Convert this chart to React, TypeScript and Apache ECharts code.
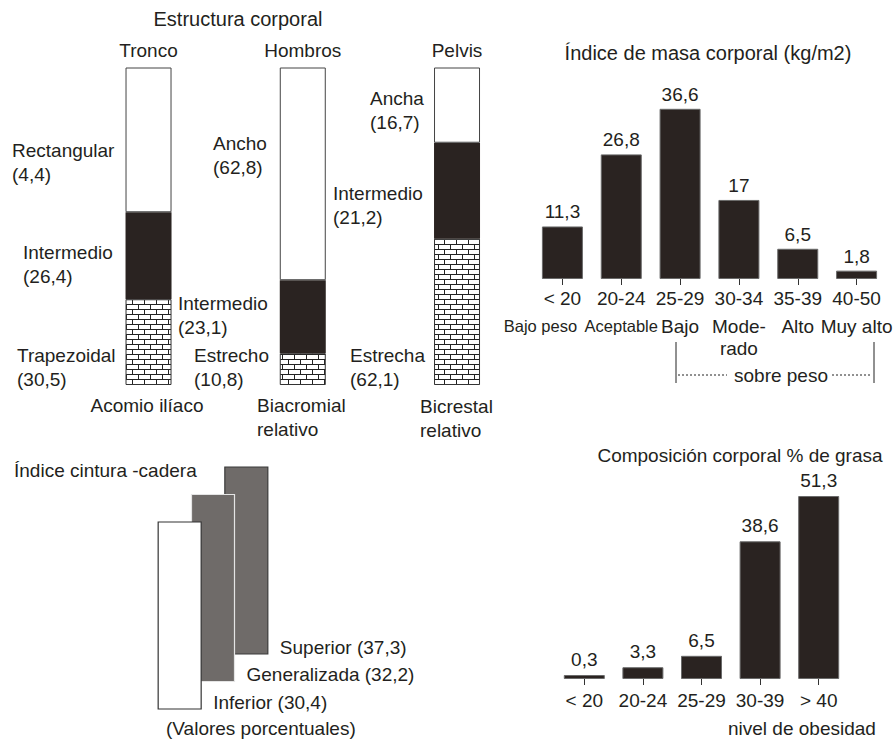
import React, { useEffect, useRef } from 'react';
import * as echarts from 'echarts';

// ---- Estructura corporal ----
const bodyParts = ['Tronco', 'Hombros', 'Pelvis'];
const bodyIndices = ['Acomio ilíaco', 'Biacromial\nrelativo', 'Bicrestal\nrelativo'];
// share of each bar (% of bar height)
const upperShare = [45.6, 67.0, 23.7];
const middleShare = [27.4, 23.0, 30.2];
const lowerShare = [27.0, 10.0, 46.1];
const upperTypes = ['Rectangular', 'Ancho', 'Ancha'];
const upperValues = [4.4, 62.8, 16.7];
const middleTypes = ['Intermedio', 'Intermedio', 'Intermedio'];
const middleValues = [26.4, 23.1, 21.2];
const lowerTypes = ['Trapezoidal', 'Estrecho', 'Estrecha'];
const lowerValues = [30.5, 10.8, 62.1];

// ---- Índice de masa corporal ----
const bmiCategories = ['< 20', '20-24', '25-29', '30-34', '35-39', '40-50'];
const bmiClasses = ['Bajo peso', 'Aceptable', 'Bajo', 'Mode-\nrado', 'Alto', 'Muy alto'];
const bmiValues = [11.3, 26.8, 36.6, 17, 6.5, 1.8];

// ---- Índice cintura-cadera ----
const whrCategories = ['Inferior', 'Generalizada', 'Superior'];
const whrValues = [30.4, 32.2, 37.3];

// ---- Composición corporal ----
const fatCategories = ['< 20', '20-24', '25-29', '30-39', '> 40'];
const fatValues = [0.3, 3.3, 6.5, 38.6, 51.3];

const FONT = '"Liberation Sans", Arial, sans-serif';
const FS = 19;
const TEXT = '#231f20';
const DARK = '#2a2321';
const GRAY = '#6f6b69';

const fmt = (v: number) => String(v).replace('.', ',');

function txt(text: string, x: number, y: number, align: string = 'left', size: number = FS) {
  return {
    type: 'text',
    x,
    y,
    style: {
      text,
      fontSize: size,
      fontFamily: FONT,
      fill: TEXT,
      textAlign: align,
      textVerticalAlign: 'middle',
      lineHeight: 24,
    },
  };
}

function brickPattern() {
  const c = document.createElement('canvas');
  c.width = 12;
  c.height = 10;
  const g = c.getContext('2d')!;
  g.fillStyle = '#ffffff';
  g.fillRect(0, 0, 12, 10);
  g.fillStyle = '#222222';
  g.fillRect(0, 4, 12, 1);
  g.fillRect(0, 9, 12, 1);
  g.fillRect(0, 0, 1, 4);
  g.fillRect(6, 5, 1, 4);
  return c;
}

export default function App() {
  const ref = useRef<HTMLDivElement>(null);

  useEffect(() => {
    document.body.style.margin = '0';
    if (!ref.current) return;
    const chart = echarts.init(ref.current, null, { renderer: 'svg' });

    const segPos = [
      [[12, 150], [23, 252], [17, 355]],
      [[213, 143], [178, 303], [194, 355]],
      [[370, 98], [333, 193], [350, 355]],
    ];
    const segLabels: any[] = [];
    bodyParts.forEach((_, j) => {
      const rows = [
        `${upperTypes[j]}\n(${fmt(upperValues[j])})`,
        `${middleTypes[j]}\n(${fmt(middleValues[j])})`,
        `${lowerTypes[j]}\n(${fmt(lowerValues[j])})`,
      ];
      rows.forEach((r, k) => {
        segLabels.push(txt(r, segPos[j][k][0], segPos[j][k][1] + 12));
      });
    });

    const pattern = { image: brickPattern(), repeat: 'repeat' };

    const option: any = {
      animation: false,
      backgroundColor: '#ffffff',
      textStyle: { fontFamily: FONT, color: TEXT },
      grid: [
        { left: 71.4, top: 67.5, width: 462.75, height: 317.5 },
        { left: 533, top: 93, width: 353, height: 186 },
        { left: 163, top: 434, width: 100, height: 275 },
        { left: 555, top: 465, width: 293, height: 214 },
      ],
      xAxis: [
        {
          gridIndex: 0,
          type: 'category',
          data: bodyParts,
          position: 'top',
          axisLine: { show: false },
          axisTick: { show: false },
          axisLabel: { fontSize: FS, color: TEXT, margin: 8, fontFamily: FONT },
        },
        {
          gridIndex: 1,
          type: 'category',
          data: bmiCategories,
          axisLine: { show: false },
          axisTick: { show: true, alignWithLabel: true, length: 6, lineStyle: { color: '#333' } },
          axisLabel: {
            interval: 0,
            margin: 4,
            color: TEXT,
            fontFamily: FONT,
            formatter: (value: string, idx: number) => {
              const cls = bmiClasses[idx].split('\n');
              const key = idx === 0 ? 'sl' : idx < 2 ? 's' : 'b';
              let out = `{a|${value}}\n{${key}|${cls[0]}}`;
              if (cls[1]) out += `\n{c|${cls[1]}}`;
              return out;
            },
            rich: {
              a: { fontSize: FS, lineHeight: 30, fontFamily: FONT, color: TEXT },
              s: { fontSize: 16.5, lineHeight: 26, fontFamily: FONT, color: TEXT },
              sl: { fontSize: 16.5, lineHeight: 26, fontFamily: FONT, color: TEXT, padding: [0, 44, 0, 0] },
              b: { fontSize: FS, lineHeight: 26, fontFamily: FONT, color: TEXT },
              c: { fontSize: FS, lineHeight: 18, fontFamily: FONT, color: TEXT },
            },
          },
        },
        { gridIndex: 2, type: 'category', data: whrCategories, show: false },
        {
          gridIndex: 3,
          type: 'category',
          data: fatCategories,
          axisLine: { show: false },
          axisTick: { show: true, alignWithLabel: true, length: 6, lineStyle: { color: '#333' } },
          axisLabel: { interval: 0, fontSize: FS, margin: 12, color: TEXT, fontFamily: FONT },
        },
      ],
      yAxis: [
        { gridIndex: 0, type: 'value', min: 0, max: 100, show: false },
        { gridIndex: 1, type: 'value', min: 0, max: 40, show: false },
        { gridIndex: 2, type: 'value', min: 0, max: 10, show: false },
        { gridIndex: 3, type: 'value', min: 0, max: 60, show: false },
      ],
      series: [
        {
          type: 'bar', xAxisIndex: 0, yAxisIndex: 0, stack: 'body', barWidth: 46,
          data: lowerShare,
          itemStyle: { color: pattern, borderColor: '#333', borderWidth: 1 },
        },
        {
          type: 'bar', xAxisIndex: 0, yAxisIndex: 0, stack: 'body', barWidth: 46,
          data: middleShare,
          itemStyle: { color: DARK },
        },
        {
          type: 'bar', xAxisIndex: 0, yAxisIndex: 0, stack: 'body', barWidth: 46,
          data: upperShare,
          itemStyle: { color: '#ffffff', borderColor: '#444', borderWidth: 1 },
        },
        {
          type: 'bar', xAxisIndex: 1, yAxisIndex: 1, barWidth: 41,
          data: bmiValues,
          itemStyle: { color: DARK, borderColor: '#6a6a6a', borderWidth: 1 },
          label: {
            show: true, position: 'top', distance: 5, fontSize: FS, color: TEXT, fontFamily: FONT,
            formatter: (p: any) => fmt(p.value),
          },
        },
        {
          type: 'custom', xAxisIndex: 2, yAxisIndex: 2,
          data: whrValues.map((v, i) => [i, v]),
          renderItem: (params: any, api: any) => {
            const i = api.value(0);
            const v = api.value(1);
            const base = api.coord([i, i]);
            const top = api.coord([i, i + 6.8]);
            const w = 43;
            const x0 = base[0] - w / 2;
            const styles = [
              { fill: '#ffffff', stroke: '#333333' },
              { fill: GRAY, stroke: '#e4e4e4' },
              { fill: GRAY, stroke: '#3a3a3a' },
            ];
            return {
              type: 'group',
              children: [
                {
                  type: 'rect',
                  z2: 10 - i * 2,
                  shape: { x: x0, y: top[1], width: w, height: base[1] - top[1] },
                  style: { ...styles[i], lineWidth: 1.2 },
                },
                {
                  type: 'text',
                  z2: 20,
                  x: x0 + w + 12,
                  y: base[1] - 7,
                  style: {
                    text: `${whrCategories[i]} (${fmt(v)})`,
                    fontSize: FS, fontFamily: FONT, fill: TEXT,
                    textAlign: 'left', textVerticalAlign: 'middle',
                  },
                },
              ],
            };
          },
        },
        {
          type: 'bar', xAxisIndex: 3, yAxisIndex: 3, barWidth: 41, barMinHeight: 4,
          data: fatValues,
          itemStyle: { color: DARK, borderColor: '#6a6a6a', borderWidth: 1 },
          label: {
            show: true, position: 'top', distance: 6, fontSize: FS, color: TEXT, fontFamily: FONT,
            formatter: (p: any) => fmt(p.value),
          },
        },
      ],
      graphic: {
        elements: [
          txt('Estructura corporal', 238, 19, 'center', 20),
          txt(bodyIndices[0], 147, 405, 'center'),
          txt(bodyIndices[1], 257, 417, 'left'),
          txt(bodyIndices[2], 420, 418, 'left'),
          ...segLabels,
          txt('Índice de masa corporal (kg/m2)', 708, 53, 'center', 20),
          { type: 'line', shape: { x1: 676, y1: 342, x2: 676, y2: 383 }, style: { stroke: '#222', lineWidth: 1 } },
          { type: 'line', shape: { x1: 874, y1: 342, x2: 874, y2: 383 }, style: { stroke: '#222', lineWidth: 1 } },
          { type: 'line', shape: { x1: 678, y1: 375, x2: 727, y2: 375 }, style: { stroke: '#222', lineWidth: 1, lineDash: [2, 2] } },
          { type: 'line', shape: { x1: 832, y1: 375, x2: 872, y2: 375 }, style: { stroke: '#222', lineWidth: 1, lineDash: [2, 2] } },
          txt('sobre peso', 781, 375, 'center'),
          txt('Índice cintura -cadera', 14, 470, 'left'),
          txt('(Valores porcentuales)', 166, 728, 'left'),
          txt('Composición corporal % de grasa', 740, 455, 'center'),
          txt('nivel de obesidad', 728, 728, 'left'),
        ],
      },
    };

    chart.setOption(option);
    return () => chart.dispose();
  }, []);

  return <div ref={ref} style={{ width: 896, height: 740 }} />;
}
